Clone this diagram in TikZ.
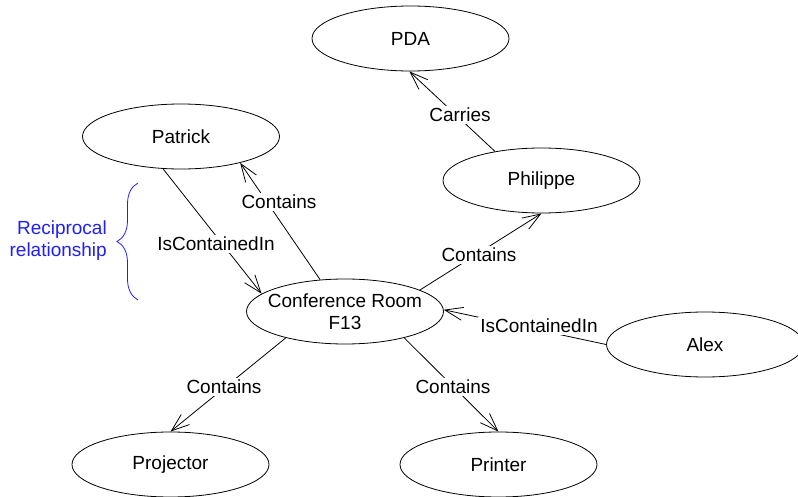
\documentclass[tikz,border=0pt]{standalone}
\usepackage{fontspec}
\setmainfont{Liberation Sans}
\usepackage{tikz}
\usetikzlibrary{shapes.geometric,arrows.meta,decorations.pathreplacing}
\definecolor{bracecol}{RGB}{30,30,255}

\begin{document}
\begin{tikzpicture}[x=1pt,y=-1pt,font=\fontsize{19}{22}\selectfont,
  thing/.style={ellipse,draw,line width=0.8pt,minimum width=197pt,minimum height=65pt,inner sep=0pt,align=center},
  rel/.style={fill=white,inner sep=2pt},
  link/.style={-{Straight Barb[length=18pt,width=13pt]},line width=0.8pt}]
\useasboundingbox (0,0) rectangle (798,497);
\node[thing] (pda)       at (410.5,38.5)  {PDA};
\node[thing] (patrick)   at (181,136.5)   {Patrick};
\node[thing] (philippe)  at (541.5,180.5) {Philippe};
\node[thing,inner xsep=-8pt] (conf) at (345,311.5) {Conference Room\\F13};
\node[thing] (alex)      at (705,344.5)   {Alex};
\node[thing] (projector) at (170.5,464.5) {Projector};
\node[thing] (printer)   at (498.5,464.5) {Printer};
\draw[link] (philippe.148) -- (pda.268);
\draw[link] (conf.128) -- (patrick.336);
\draw[link] (patrick.241) -- (conf.168);
\draw[link] (conf.16) -- (philippe.270);
\draw[link] (alex.180) -- (conf.1);
\draw[link] (conf.336) -- (printer.90);
\draw[link] (conf.204) -- (projector.90);
\node[rel] (carries)  at (460,115) {Carries};
\node[rel] (cpatrick) at (279,202) {Contains};
\node[rel] (ipatrick) at (216,244) {IsContainedIn};
\node[rel] (cphil)    at (479,255) {Contains};
\node[rel] (ialex)    at (539,326) {IsContainedIn};
\node[rel] (cprint)   at (453,387) {Contains};
\node[rel] (cproj)    at (224,387) {Contains};
% reciprocal pair
\draw[bracecol,line width=0.8pt,decorate,decoration={brace,amplitude=21pt}] (138,300) -- (138,183);
\node[bracecol,align=right,anchor=east,inner sep=0pt] (recip) at (107,241) {Reciprocal\\relationship};
\end{tikzpicture}
\end{document}
